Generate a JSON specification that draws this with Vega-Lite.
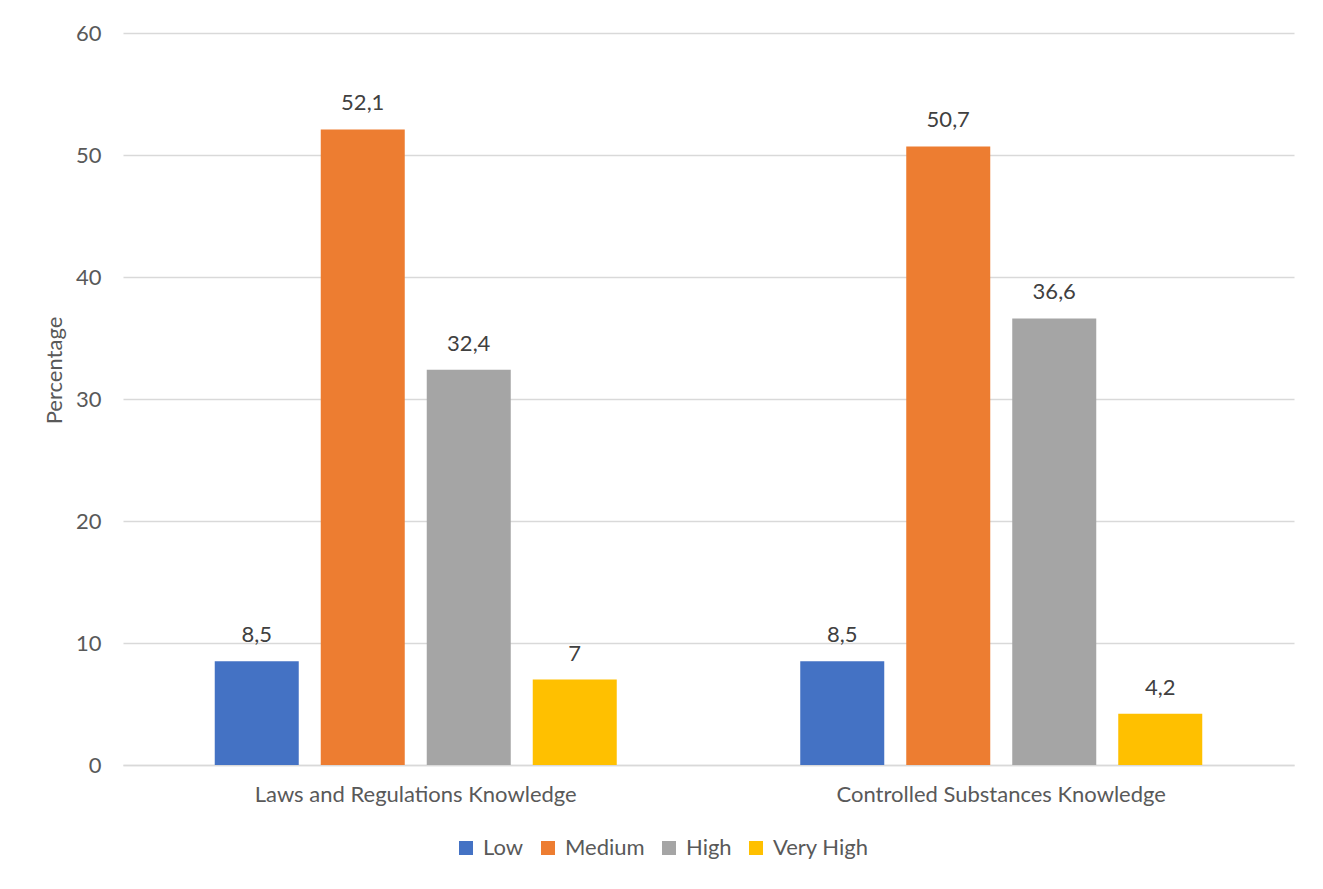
{
  "$schema": "https://vega.github.io/schema/vega-lite/v6.json",
  "width": 1171,
  "height": 732,
  "autosize": {"type": "none"},
  "padding": {"left": 123, "top": 33, "right": 29, "bottom": 124},
  "background": "white",
  "config": {
    "locale": {"number": {"decimal": ",", "thousands": ".", "grouping": [3], "currency": ["", " €"]}},
    "font": "Lato",
    "view": {"stroke": null},
    "axis": {"labelFont": "Lato", "titleFont": "Lato"}
  },
  "data": {
    "values": [
      {"area": "Laws and Regulations Knowledge", "level": "Low", "pct": 8.5},
      {"area": "Laws and Regulations Knowledge", "level": "Medium", "pct": 52.1},
      {"area": "Laws and Regulations Knowledge", "level": "High", "pct": 32.4},
      {"area": "Laws and Regulations Knowledge", "level": "Very High", "pct": 7},
      {"area": "Controlled Substances Knowledge", "level": "Low", "pct": 8.5},
      {"area": "Controlled Substances Knowledge", "level": "Medium", "pct": 50.7},
      {"area": "Controlled Substances Knowledge", "level": "High", "pct": 36.6},
      {"area": "Controlled Substances Knowledge", "level": "Very High", "pct": 4.2}
    ]
  },
  "encoding": {
    "x": {
      "field": "area",
      "type": "nominal",
      "sort": ["Laws and Regulations Knowledge", "Controlled Substances Knowledge"],
      "scale": {"paddingInner": 0.3134, "paddingOuter": 0.1567},
      "axis": {
        "title": null,
        "labelAngle": 0,
        "labelFontSize": 22,
        "labelColor": "#595959",
        "labelPadding": 19,
        "labelLimit": 0,
        "ticks": false,
        "domainColor": "#d9d9d9",
        "domainWidth": 1.5
      }
    },
    "xOffset": {
      "field": "level",
      "type": "nominal",
      "sort": ["Low", "Medium", "High", "Very High"],
      "scale": {"paddingInner": 0.2075, "paddingOuter": 0}
    },
    "y": {
      "field": "pct",
      "type": "quantitative",
      "scale": {"domain": [0, 60]},
      "axis": {
        "title": "Percentage",
        "titleFontSize": 22,
        "titleFontWeight": "normal",
        "titleColor": "#595959",
        "titlePadding": 9,
        "titleY": 337,
        "values": [0, 10, 20, 30, 40, 50, 60],
        "labelFontSize": 22,
        "labelColor": "#595959",
        "labelPadding": 22,
        "ticks": false,
        "domain": false,
        "gridColor": "#d9d9d9",
        "gridWidth": 1.5
      }
    }
  },
  "layer": [
    {
      "mark": {"type": "bar"},
      "encoding": {
        "color": {
          "field": "level",
          "type": "nominal",
          "sort": ["Low", "Medium", "High", "Very High"],
          "scale": {
            "domain": ["Low", "Medium", "High", "Very High"],
            "range": ["#4472C4", "#ED7D31", "#A5A5A5", "#FFC000"]
          },
          "legend": {
            "title": null,
            "orient": "none",
            "legendX": 332,
            "legendY": 804,
            "direction": "horizontal",
            "symbolType": "square",
            "symbolSize": 196,
            "symbolStrokeWidth": 0,
            "labelFontSize": 22,
            "labelColor": "#595959",
            "labelFont": "Lato",
            "labelOffset": 6,
            "columnPadding": 13
          }
        }
      }
    },
    {
      "mark": {"type": "text", "baseline": "bottom", "dy": -14, "fontSize": 22, "color": "#404040"},
      "encoding": {
        "text": {"field": "pct", "type": "quantitative", "format": "~g"}
      }
    }
  ]
}
